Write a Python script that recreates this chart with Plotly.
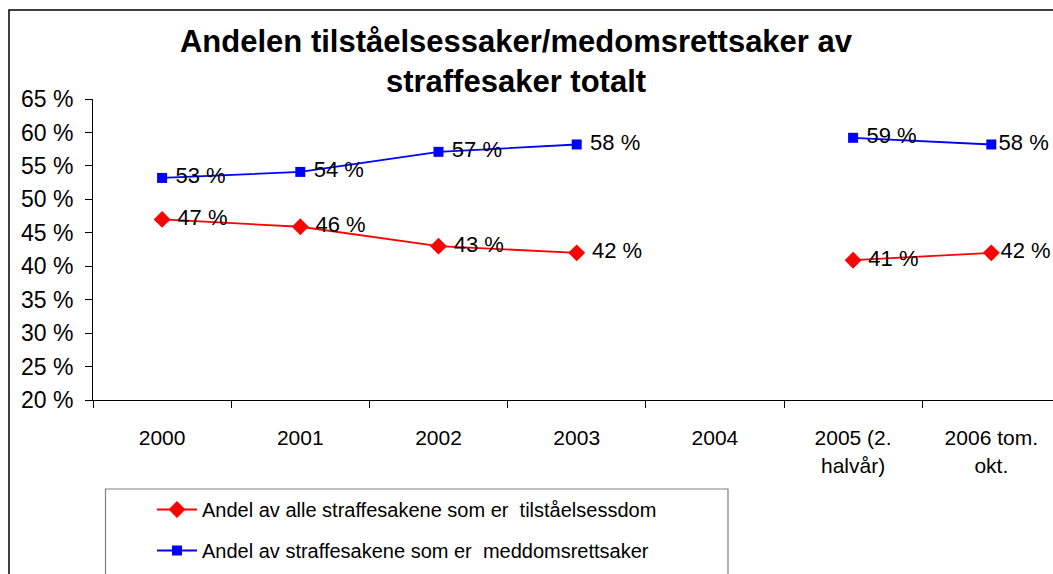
import plotly.graph_objects as go

categories = ["2000", "2001", "2002", "2003", "2004", "2005 (2.<br>halvår)", "2006 tom.<br>okt."]
tilstaelse = [47.0, 45.9, 43.0, 42.0, None, 40.9, 42.0]
meddomsrett = [53.2, 54.1, 57.1, 58.2, None, 59.2, 58.2]
name_red = "Andel av alle straffesakene som er  tilståelsessdom"
name_blue = "Andel av straffesakene som er  meddomsrettsaker"
title_text = "Andelen tilståelsessaker/medomsrettsaker av<br>straffesaker totalt"
y_ticks = [20, 25, 30, 35, 40, 45, 50, 55, 60, 65]
y_ticktext = [f"{v} %" for v in y_ticks]

FONT = "Liberation Sans, Arial, sans-serif"

W, H = 1053, 574
L, T, R, B = 93, 99, 0, 174
pw, ph = W - L - R, H - T - B
cat_w = 138.2

def px_x(x):
    return (x - L) / pw

def px_y(y):
    return (H - B - y) / ph

# last label sits closer to its marker (as in the original, to fit the frame)
label_tpl = [" %{y:.0f} %"] * (len(categories) - 1) + ["%{y:.0f} %"]

fig = go.Figure()
fig.add_trace(go.Scatter(
    x=categories, y=tilstaelse, name=name_red, mode="lines+markers+text",
    line=dict(color="#FF0000", width=1.8),
    marker=dict(symbol="diamond", size=13, color="#FF0000"),
    texttemplate=label_tpl, textposition="middle right",
    textfont=dict(family=FONT, size=22, color="black"),
    connectgaps=False, cliponaxis=False, legendgroup="a",
))
fig.add_trace(go.Scatter(
    x=categories, y=meddomsrett, name=name_blue, mode="lines+markers+text",
    line=dict(color="#0000FF", width=1.8),
    marker=dict(symbol="square", size=10, color="#0000FF"),
    texttemplate=label_tpl, textposition="middle right",
    textfont=dict(family=FONT, size=22, color="black"),
    connectgaps=False, cliponaxis=False, legendgroup="b",
))

fig.update_layout(
    width=W, height=H,
    margin=dict(l=L, r=R, t=T, b=B, pad=0, autoexpand=False),
    paper_bgcolor="white", plot_bgcolor="white",
    font=dict(family=FONT, size=21, color="black"),
    title=dict(text=title_text, x=516 / W, xanchor="center", xref="container",
               y=1 - 52 / H, yanchor="top", yref="container",
               font=dict(family=FONT, size=31, color="black", weight="bold")),
    showlegend=True,
    legend=dict(x=px_x(152), y=px_y(490), xanchor="left", yanchor="top",
                bgcolor="rgba(0,0,0,0)", borderwidth=0,
                font=dict(family=FONT, size=20, color="black"),
                tracegroupgap=12, itemwidth=40),
    xaxis=dict(type="category", range=[-0.5, -0.5 + pw / cat_w],
               showline=True, linecolor="black", linewidth=1,
               ticks="outside", tickson="boundaries", ticklen=7, tickcolor="black",
               showgrid=False, zeroline=False, ticklabelstandoff=19,
               tickfont=dict(family=FONT, size=21), automargin=False),
    yaxis=dict(range=[20, 65], tickvals=y_ticks, ticktext=y_ticktext,
               showline=True, linecolor="black", linewidth=1,
               ticks="outside", ticklen=7, tickcolor="black",
               showgrid=False, zeroline=False, ticklabelstandoff=7,
               tickfont=dict(family=FONT, size=23), automargin=False),
    shapes=[
        dict(type="rect", xref="paper", yref="paper",
             x0=px_x(9), x1=px_x(1080), y0=px_y(620), y1=px_y(10),
             line=dict(color="black", width=1.5), fillcolor="rgba(0,0,0,0)", layer="below"),
        dict(type="rect", xref="paper", yref="paper",
             x0=px_x(105.5), x1=px_x(728), y0=px_y(620), y1=px_y(489),
             line=dict(color="#808080", width=1.2), fillcolor="rgba(0,0,0,0)", layer="below"),
    ],
)

fig.write_html(
    "out.html",
    config={"displayModeBar": False},
    post_script="document.body.style.margin='0';document.body.style.padding='0';"
                "document.body.style.overflow='hidden';"
                "document.documentElement.style.overflow='hidden';",
)
